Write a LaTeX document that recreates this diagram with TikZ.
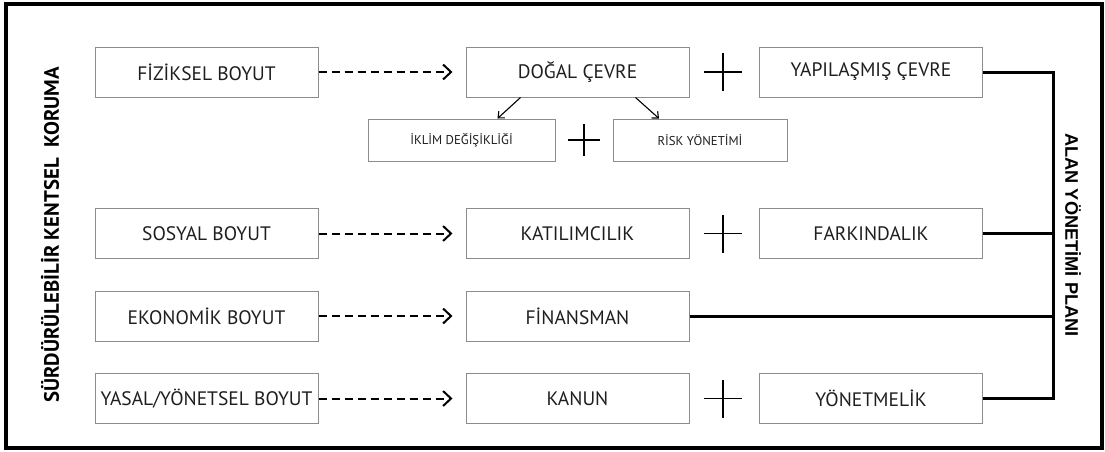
\documentclass[tikz,border=0pt]{standalone}
\usepackage{fontspec}
\setmainfont{PT Sans}
\newfontfamily\baslikfont{Liberation Sans}
\usepackage{xcolor}
\usetikzlibrary{arrows.meta,calc}
\definecolor{GriCerceve}{RGB}{140,140,140}
\definecolor{YaziGri}{RGB}{30,30,30}

\begin{document}
\begin{tikzpicture}[x=1pt,y=-1pt,
  kutu/.style={draw=GriCerceve,line width=1pt,minimum width=223pt,minimum height=50pt,inner sep=0pt,text=YaziGri,font=\fontsize{19.5}{19.5}\selectfont},
  kucukkutu/.style={kutu,minimum height=42pt,font=\fontsize{12.8}{12.8}\selectfont},
  arti/.style={minimum size=#1,inner sep=0pt,path picture={\draw[line width=1.5pt] (path picture bounding box.north)--(path picture bounding box.south) (path picture bounding box.west)--(path picture bounding box.east);}},
  kesikok/.style={line width=2pt,dash pattern=on 8pt off 5pt,-{Straight Barb[length=8pt,width=15pt,line width=2pt]}},
  inceok/.style={line width=1.1pt,-{Straight Barb[length=5pt,width=9pt]}},
  hat/.style={line width=3pt}]
  \useasboundingbox (0,0) rectangle (1105,451);
  \draw[line width=3.2pt] (6,4) rectangle (1102,448);
  % sol sutun
  \node[kutu] (fiz) at (206.5,72) {FİZİKSEL BOYUT};
  \node[kutu] (sos) at (206.5,233.5) {SOSYAL BOYUT};
  \node[kutu] (eko) at (206.5,316) {EKONOMİK BOYUT};
  \node[kutu] (yas) at (206.5,398.5) {YASAL/YÖNETSEL BOYUT};
  % orta sutun
  \node[kutu] (dogal) at (577.5,72) {DOĞAL ÇEVRE};
  \node[kutu] (katil) at (577.5,233.5) {KATILIMCILIK};
  \node[kutu] (finans) at (577.5,316) {FİNANSMAN};
  \node[kutu] (kanun) at (577.5,398.5) {KANUN};
  % sag sutun
  \node[kutu] (yapi) at (871,72) {YAPILAŞMIŞ ÇEVRE};
  \node[kutu] (fark) at (871,233.5) {FARKINDALIK};
  \node[kutu] (yonet) at (871,398.5) {YÖNETMELİK};
  % alt kutular
  \node[kucukkutu,minimum width=187pt] (iklim) at (461.5,140) {İKLİM DEĞİŞİKLİĞİ};
  \node[kucukkutu,minimum width=174pt] (risk) at (700,140) {RİSK YÖNETİMİ};
  \node[arti=38pt] (p1) at (723,72) {};
  \node[arti=38pt] (p2) at (723,233.5) {};
  \node[arti=38pt] (p3) at (723,398.5) {};
  \node[arti=32pt] (p4) at (584,140) {};
  \draw[kesikok] (fiz.east) -- ([xshift=-13pt]dogal.west);
  \draw[kesikok] (sos.east) -- ([xshift=-13pt]katil.west);
  \draw[kesikok] (eko.east) -- ([xshift=-13pt]finans.west);
  \draw[kesikok] (yas.east) -- ([xshift=-13pt]kanun.west);
  \draw[inceok] ([xshift=-57pt]dogal.south) -- ([xshift=36pt]iklim.north);
  \draw[inceok] ([xshift=58pt]dogal.south) -- ([xshift=-41pt]risk.north);
  % plan hatti
  \coordinate (hatUst) at (1053,72);
  \coordinate (hatAlt) at (1053,398.5);
  \draw[hat] (yapi.east) -- (hatUst) -- (hatAlt) -- (yonet.east);
  \draw[hat] (fark.east) -- (fark.east -| hatUst);
  \draw[hat] (finans.east) -- (finans.east -| hatUst);
  \node[rotate=90,font=\bfseries\fontsize{20.8}{20.8}\selectfont] (sol) at (50,235) {SÜRDÜRÜLEBİLİR KENTSEL\ \ KORUMA};
  \node[rotate=-90,font=\baslikfont\bfseries\fontsize{18.2}{18.2}\selectfont] (sag) at (1073,235) {ALAN YÖNETİMİ PLANI};
\end{tikzpicture}
\end{document}
